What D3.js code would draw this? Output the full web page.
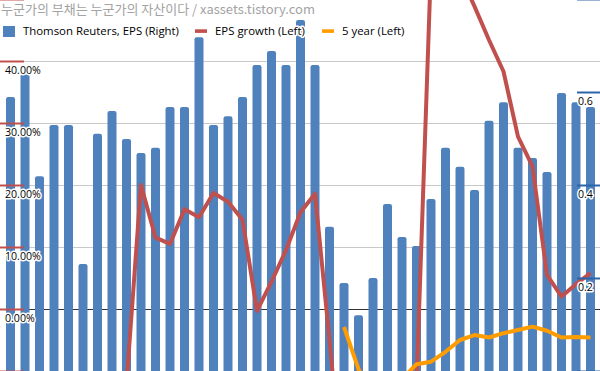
<!DOCTYPE html>
<html>
<head>
<meta charset="utf-8">
<script src="https://cdn.jsdelivr.net/npm/d3@7"></script>
<style>
  html, body { margin: 0; padding: 0; background: #fff; }
  svg { display: block; }
  .halo { paint-order: stroke; stroke: #fff; stroke-width: 3px; stroke-linejoin: round; }
</style>
</head>
<body>
<div id="chart"></div>
<script>
'use strict';

// periods (no axis labels visible in the source, so just numbered)
var periods = ['1','2','3','4','5','6','7','8','9','10','11','12','13','14','15','16','17','18','19','20',
               '21','22','23','24','25','26','27','28','29','30','31','32','33','34','35','36','37','38','39','40','41'];

// Thomson Reuters, EPS (right axis)
var epsValues = [0.589, 0.639, 0.419, 0.529, 0.529, 0.230, 0.510, 0.559, 0.499, 0.469,
                 0.480, 0.568, 0.568, 0.718, 0.529, 0.548, 0.589, 0.658, 0.688, 0.658,
                 0.755, 0.658, 0.310, 0.189, 0.120, 0.200, 0.359, 0.288, 0.269, 0.370,
                 0.480, 0.439, 0.389, 0.538, 0.578, 0.480, 0.458, 0.428, 0.598, 0.578, 0.568];

// EPS growth, % (left axis) - off-chart values are rough guesses
var epsGrowth = [null, null, null, null, null, null, null, null, -12, 20.0,
                 11.5, 10.5, 16.1, 14.8, 18.7, 17.3, 14.4, -0.3, 4.4, 9.5,
                 15.6, 18.6, -5, -30, -45, -40, -28, -20, -12.2, 55.5,
                 62, 54, 48.8, 43.4, 38.3, 27.8, 23.0, 5.5, 2.0, 4.0, 5.8];

// 5 year, % (left axis)
var fiveYear = [null, null, null, null, null, null, null, null, null, null,
                null, null, null, null, null, null, null, null, null, null,
                null, null, null, -2.9, -9.7, -14, -13, -11.3, -8.9, -8.5,
                -6.9, -5.0, -4.2, -4.6, -3.9, -3.4, -2.85, -3.5, -4.6, -4.5, -4.6];

var leftTickMarks = [-10, 0, 10, 20, 30, 40, 50];
var leftTickLabels = [0, 10, 20, 30, 40];
var rightTickMarks = [0, 0.2, 0.4, 0.6, 0.8];
var rightTickLabels = [0.2, 0.4, 0.6];

var legendLabels = ['Thomson Reuters, EPS (Right)', 'EPS growth (Left)', '5 year (Left)'];
var titleText = '누군가의 부채는 누군가의 자산이다 / xassets.tistory.com';

var width = 600, height = 371;
var blue = '#4f81bd', red = '#c0504d', orange = '#ff9c00';
var font = '"Open Sans", "Liberation Sans", sans-serif';

var svg = d3.select('#chart').append('svg')
    .attr('width', width)
    .attr('height', height);

var x = d3.scaleBand()
    .domain(periods)
    .range([3.25, 597.75])
    .paddingInner(0.38)
    .paddingOuter(0.19);

var yLeft = d3.scaleLinear().domain([-10, 50]).range([371, -1]);
var yRight = d3.scaleLinear().domain([0, 0.8]).range([371, -1]);

var cx = function(p) { return x(p) + x.bandwidth() / 2; };

// gridlines
svg.append('g')
    .attr('shape-rendering', 'crispEdges')
    .selectAll('line')
    .data(leftTickMarks)
    .join('line')
    .attr('x1', 0)
    .attr('x2', width)
    .attr('y1', function(d) { return yLeft(d); })
    .attr('y2', function(d) { return yLeft(d); })
    .attr('stroke', function(d) { return d === 0 ? '#333' : '#c9c9c9'; })
    .attr('stroke-width', 1);

// bars
svg.append('g')
    .selectAll('rect')
    .data(periods.map(function(p, i) { return {p: p, v: epsValues[i]}; }))
    .join('rect')
    .attr('x', function(d) { return x(d.p); })
    .attr('width', x.bandwidth())
    .attr('y', function(d) { return yRight(d.v); })
    .attr('height', function(d) { return height + 5 - yRight(d.v); })
    .attr('rx', 2.2)
    .attr('fill', blue);

// lines
var line = d3.line()
    .defined(function(d) { return d.v != null; })
    .x(function(d) { return cx(d.p); })
    .y(function(d) { return yLeft(d.v); });

[[epsGrowth, red], [fiveYear, orange]].forEach(function(s) {
    svg.append('path')
        .datum(periods.map(function(p, i) { return {p: p, v: s[0][i]}; }))
        .attr('fill', 'none')
        .attr('stroke', s[1])
        .attr('stroke-width', 4)
        .attr('stroke-linejoin', 'round')
        .attr('d', line);
});

// left axis (ticks drawn inward from the left edge)
var leftAxis = svg.append('g')
    .call(d3.axisRight(yLeft)
        .tickValues(leftTickMarks)
        .tickSize(24)
        .tickFormat(function(d) { return d.toFixed(2) + '%'; }));
leftAxis.select('.domain').remove();
leftAxis.selectAll('.tick line').attr('stroke', red).attr('stroke-width', 2);
leftAxis.selectAll('.tick text')
    .attr('x', 5).attr('y', 12).attr('dy', null)
    .attr('text-anchor', 'start')
    .attr('class', 'halo')
    .style('font-family', font).style('font-size', '10.6px').attr('fill', '#000')
    .style('display', function(d) { return leftTickLabels.indexOf(d) < 0 ? 'none' : null; });

// right axis
var rightAxis = svg.append('g')
    .attr('transform', 'translate(' + width + ',0)')
    .call(d3.axisLeft(yRight)
        .tickValues(rightTickMarks)
        .tickSize(23)
        .tickFormat(d3.format('.1f')));
rightAxis.select('.domain').remove();
rightAxis.selectAll('.tick line').attr('stroke', '#2c64a8').attr('stroke-width', 2);
rightAxis.selectAll('.tick text')
    .attr('x', -22).attr('y', 12).attr('dy', null)
    .attr('text-anchor', 'start')
    .attr('class', 'halo')
    .style('font-family', font).style('font-size', '10.6px').attr('fill', '#000')
    .style('display', function(d) { return rightTickLabels.indexOf(d) < 0 ? 'none' : null; });

// legend
var legendX = [3, 195, 322];
var legend = svg.append('g');
legendLabels.forEach(function(label, i) {
    if (i === 0) {
        legend.append('rect').attr('x', legendX[i]).attr('y', 26).attr('width', 12).attr('height', 11).attr('fill', blue);
    } else {
        legend.append('rect').attr('x', legendX[i]).attr('y', 29.3).attr('width', 12).attr('height', 3.6)
            .attr('fill', i === 1 ? red : orange);
    }
    legend.append('text')
        .attr('class', 'halo')
        .attr('x', legendX[i] + 20)
        .attr('y', 35)
        .style('font-family', font)
        .style('font-size', '11.4px')
        .attr('fill', '#000')
        .text(label);
});

// title
svg.append('text')
    .attr('x', 1)
    .attr('y', 14)
    .style('font-family', '"Noto Sans CJK KR", sans-serif')
    .style('font-size', '13px')
    .attr('fill', '#a3a3a3')
    .text(titleText);
</script>
</body>
</html>
